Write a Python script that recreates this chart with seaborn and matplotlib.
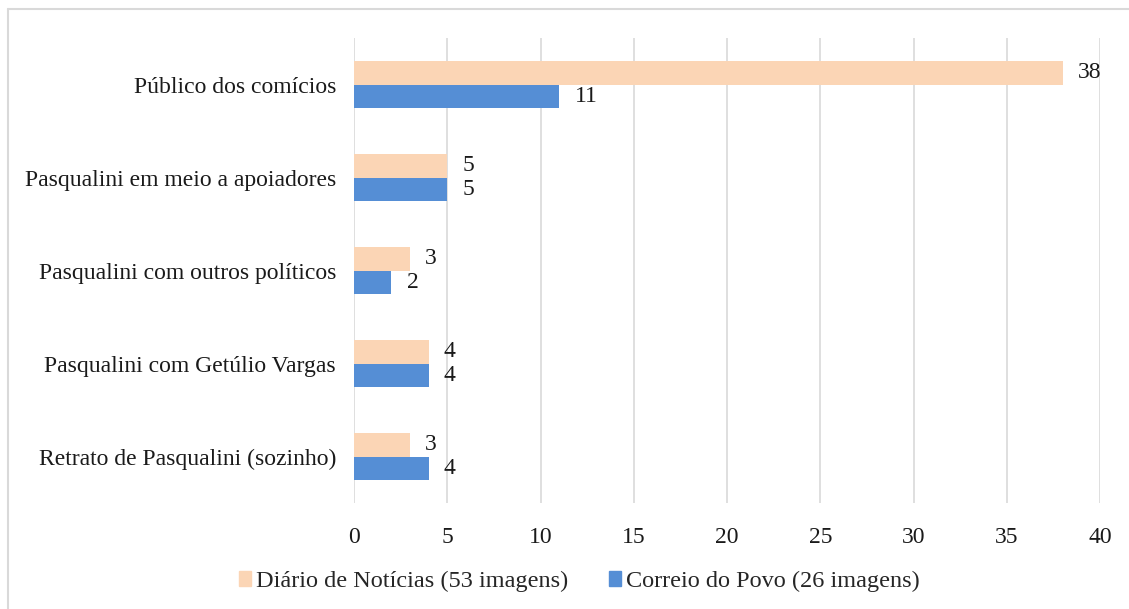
import pandas as pd
import matplotlib.pyplot as plt
import seaborn as sns
from matplotlib.lines import Line2D

categories = ["Público dos comícios", "Pasqualini em meio a apoiadores",
              "Pasqualini com outros políticos", "Pasqualini com Getúlio Vargas",
              "Retrato de Pasqualini (sozinho)"]
series_names = ["Diário de Notícias (53 imagens)", "Correio do Povo (26 imagens)"]
diario = [38, 5, 3, 4, 3]
correio = [11, 5, 2, 4, 4]
x_ticks = [0, 5, 10, 15, 20, 25, 30, 35, 40]

df = pd.DataFrame({
    "categoria": categories * 2,
    "serie": [series_names[0]] * 5 + [series_names[1]] * 5,
    "valor": diario + correio,
})

sns.set_style("white")
plt.rcParams["font.family"] = ["Liberation Serif", "DejaVu Serif"]

fig = plt.figure(figsize=(11.29, 6.09), dpi=100)
ax = fig.add_axes([0.3136, 0.174, 0.6607, 0.7636])

colors = ["#FBD5B5", "#558ED5"]
sns.barplot(data=df, y="categoria", x="valor", hue="serie", orient="h",
            palette=colors, width=0.5, ax=ax, legend=False, saturation=1,
            edgecolor="none")

ax.set_xlim(0, 40)
ax.set_xticks(x_ticks)
ax.set_ylim(4.5, -0.5)
ax.grid(axis="x", color="#D9D9D9", linewidth=1.2)
ax.grid(axis="y", visible=False)
ax.set_axisbelow(True)
for s in ax.spines.values():
    s.set_visible(False)
ax.tick_params(axis="both", length=0, labelsize=17, colors="#1a1a1a")
ax.tick_params(axis="y", pad=13)
ax.tick_params(axis="x", pad=17)
ax.set_xlabel("")
ax.set_ylabel("")

for cont in ax.containers:
    ax.bar_label(cont, padding=11, fontsize=17, color="#1a1a1a")

handles = [plt.Rectangle((0, 0), 1, 1, color=c) for c in colors]
fig.legend(handles, series_names, loc="center", bbox_to_anchor=(0.513, 0.045),
           ncol=2, frameon=False, fontsize=17.5, handlelength=0.5,
           handleheight=0.55, handletextpad=0.2, columnspacing=1.7)

# thin frame like the source image
fig.add_artist(Line2D([8 / 1129, 1], [1 - 9 / 609] * 2, color="#D9D9D9", linewidth=1.5))
fig.add_artist(Line2D([8 / 1129] * 2, [0, 1 - 9 / 609], color="#D9D9D9", linewidth=1.5))

fig.savefig("out.png", dpi=100)
